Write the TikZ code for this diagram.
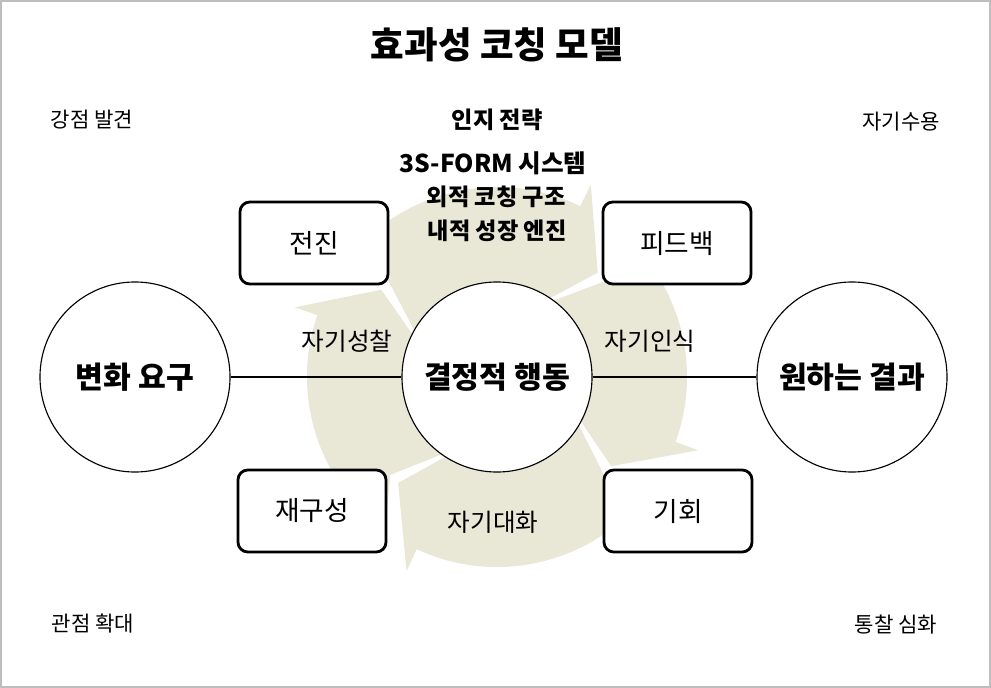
\documentclass[tikz,border=0pt]{standalone}
\usepackage{fontspec}
\setmainfont{Noto Sans CJK KR}
\usetikzlibrary{positioning}
\definecolor{cycbeige}{RGB}{233,231,214}
\definecolor{framegray}{RGB}{190,190,190}

\begin{document}
\begin{tikzpicture}[
    x=0.025cm, y=0.025cm,
    ttl/.style={font=\fontsize{26}{30}\selectfont\bfseries},
    hd/.style={font=\fontsize{16.5}{20}\selectfont\bfseries},
    sys/.style={font=\fontsize{17.5}{21}\selectfont\bfseries},
    sub/.style={font=\fontsize{16.5}{20}\selectfont\bfseries},
    corner/.style={font=\fontsize{15}{18}\selectfont},
    ann/.style={font=\fontsize{17.5}{21}\selectfont},
    hub/.style={circle, draw, line width=0.8pt, fill=white, inner sep=0pt,
        minimum size=4.75cm, font=\fontsize{21.5}{26}\selectfont\bfseries},
    stepbox/.style={draw, line width=2pt, rounded corners=7pt, fill=white,
        minimum width=3.7cm, minimum height=2.05cm, font=\fontsize{19}{23}\selectfont},
    link/.style={line width=0.8pt},
    cyc/.style={fill=cycbeige}
]
\useasboundingbox (0,0) rectangle (991,-688);
\draw[framegray, line width=1pt] (1,-1) rectangle (990,-687);

% cycle of four arrows behind everything
\begin{scope}[shift={(497,-377)}]
\foreach \p/\e in {143/46, 46/-38, -38/-133, -133/-217}{
  \fill[cyc] ({\p+7}:190) arc[start angle=\p+7, end angle=\e+18, radius=190]
    -- ({\e+18}:214) -- (\e:145) -- ({\e+18}:76) -- ({\e+18}:88)
    arc[start angle=\e+18, end angle=\p+10.5, radius=88]
    -- ({\p-4.5}:145) -- cycle;
}
\end{scope}

% titles and corner notes
\node[ttl] (title) at (497,-45) {효과성 코칭 모델};
\node[corner] (strength) at (92,-120) {강점 발견};
\node[hd] (cognition) at (497,-120) {인지 전략};
\node[corner] (accept) at (901,-122) {자기수용};
\node[sys] (system) at (493,-163) {3S-FORM 시스템};
\node[sub] (outer) at (496,-197) {외적 코칭 구조};
\node[sub] (inner) at (497,-231) {내적 성장 엔진};
\node[corner] (widen) at (93,-624) {관점 확대};
\node[corner] (deepen) at (896,-625) {통찰 심화};

% main axis
\node[hub] (need) at (135,-377) {변화 요구};
\node[hub] (action) at (497,-377) {결정적 행동};
\node[hub] (result) at (852,-377) {원하는 결과};
\draw[link] (need) -- (action);
\draw[link] (action) -- (result);

% four steps
\node[stepbox] (advance) at (314,-243) {전진};
\node[stepbox] (feedback) at (677,-243) {피드백};
\node[stepbox] (reframe) at (312,-511) {재구성};
\node[stepbox] (chance) at (678,-511) {기회};

% cycle labels
\node[ann] (reflect) at (347,-341) {자기성찰};
\node[ann] (aware) at (650,-341) {자기인식};
\node[ann] (talk) at (493,-522) {자기대화};

\end{tikzpicture}
\end{document}
